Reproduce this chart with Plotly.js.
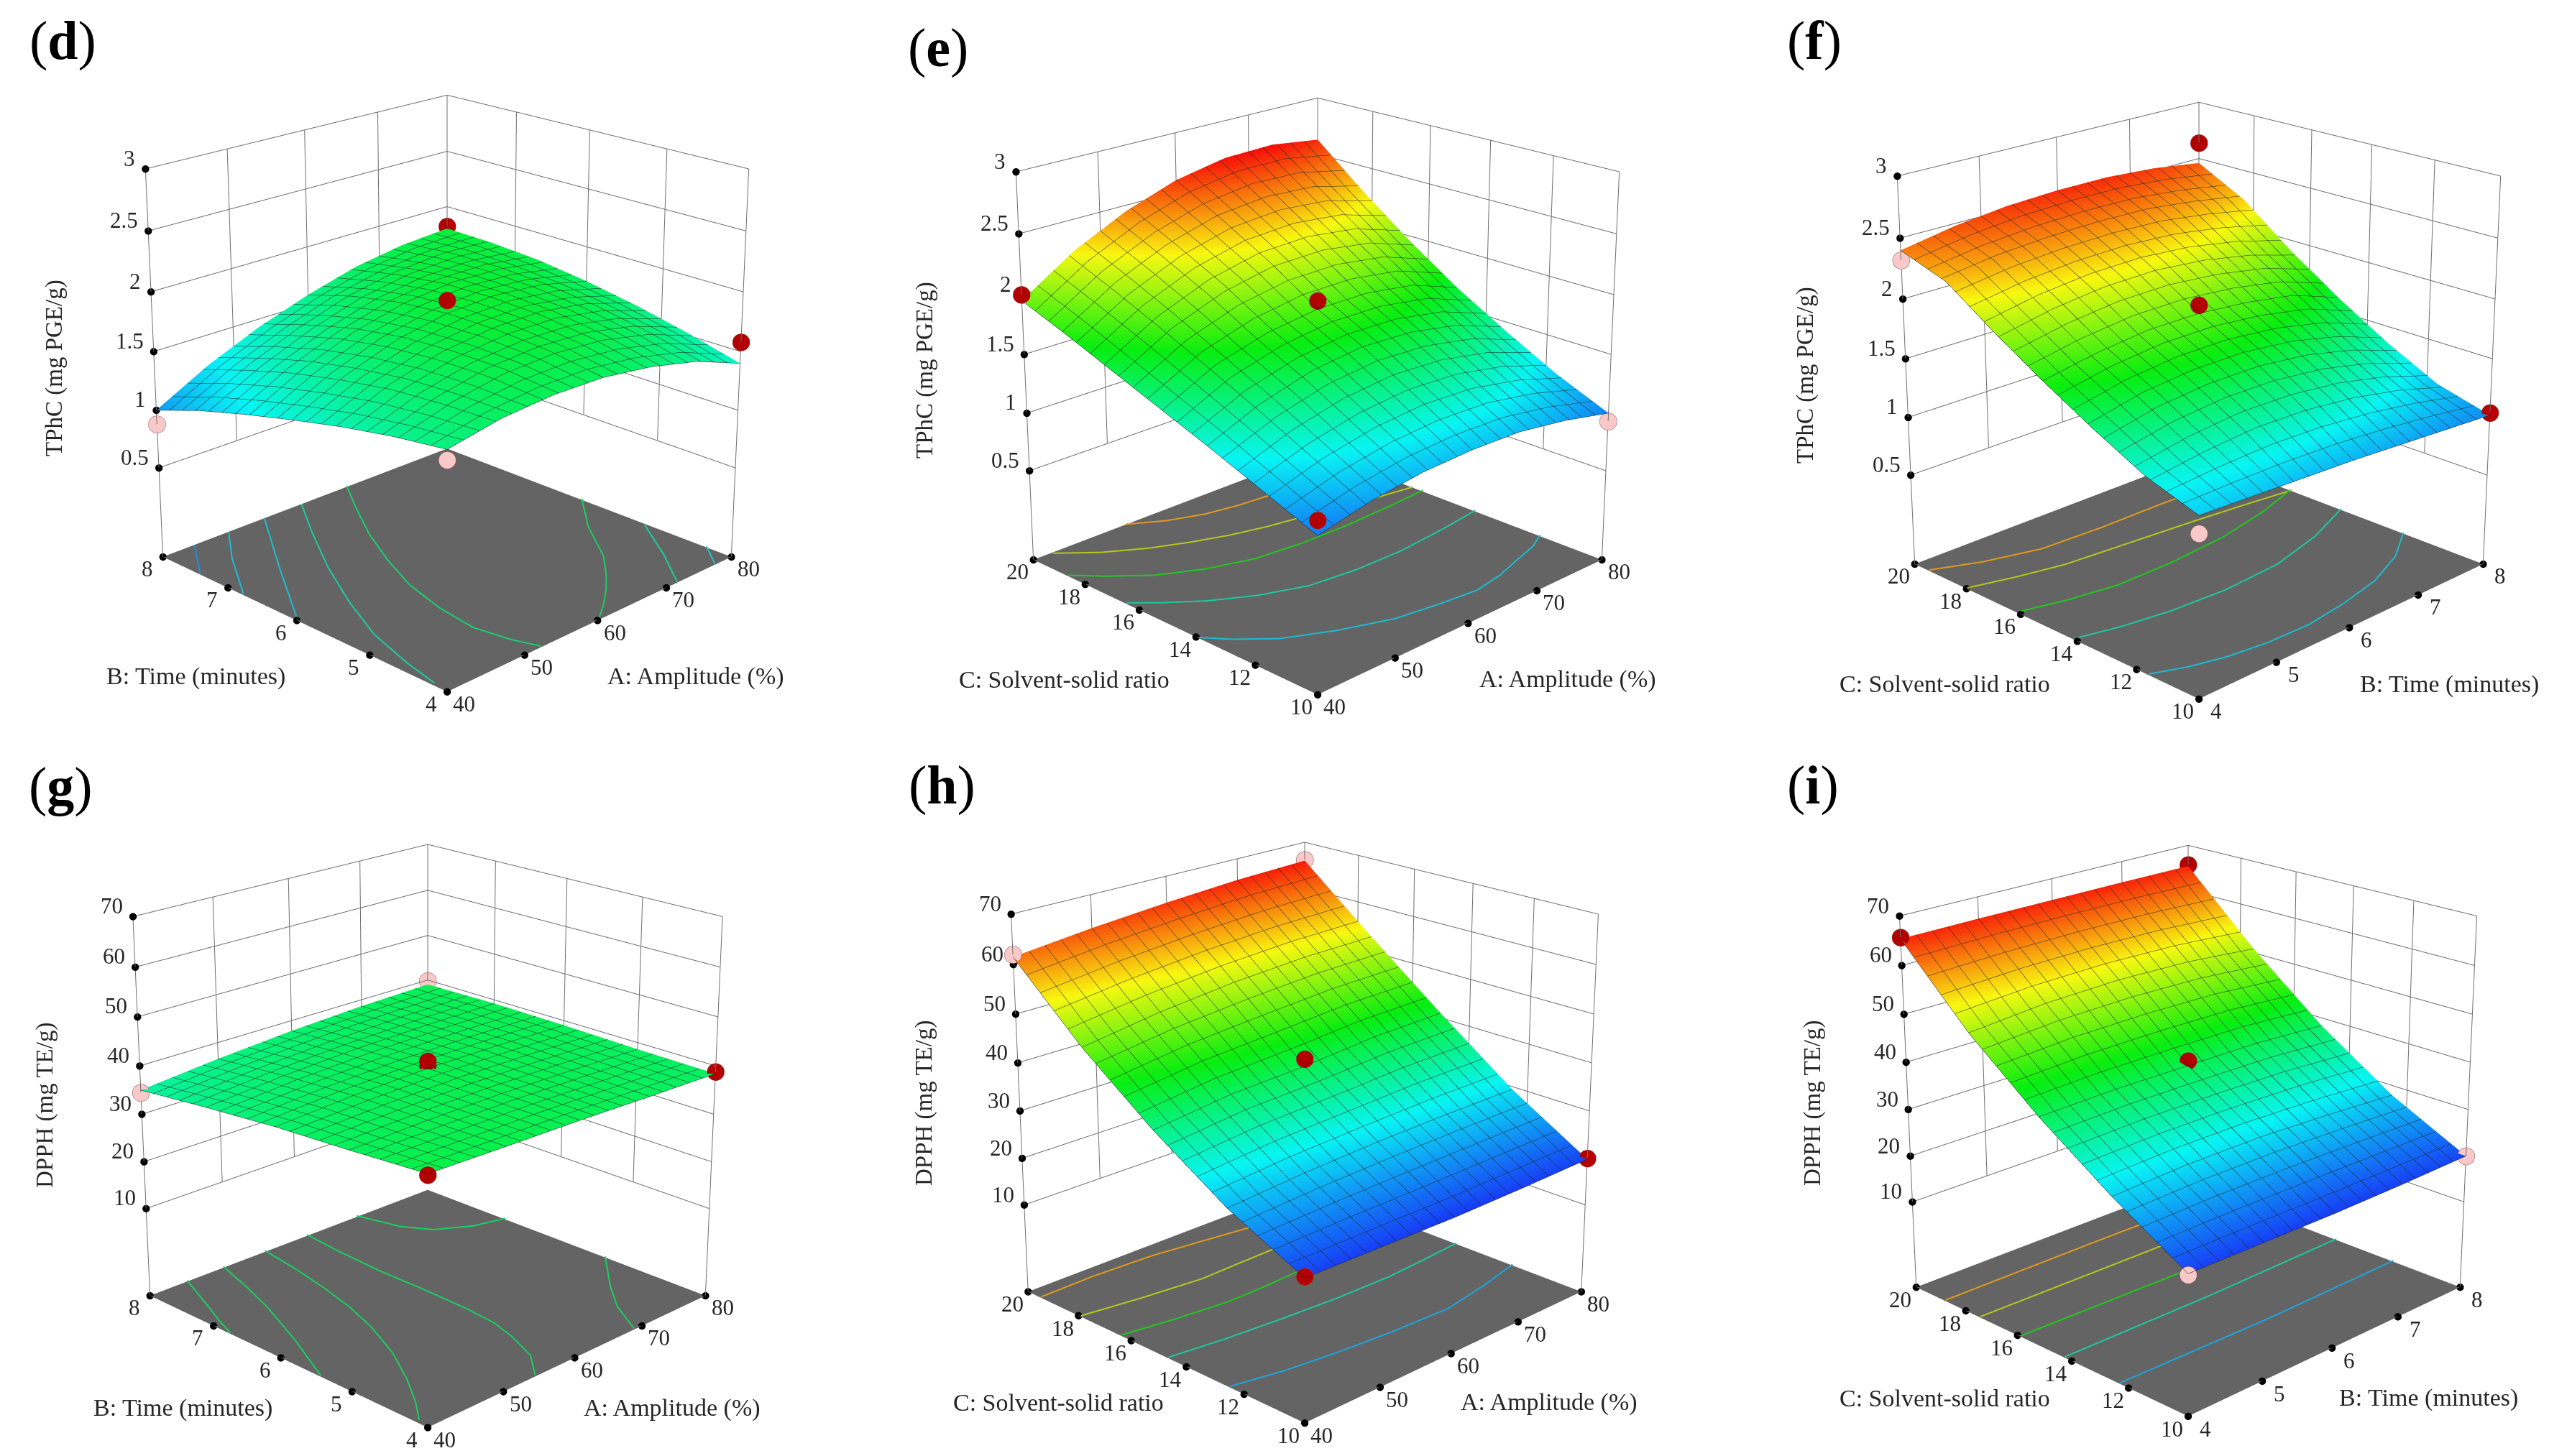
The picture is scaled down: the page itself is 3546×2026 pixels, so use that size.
<!DOCTYPE html>
<html>
<head>
<meta charset="utf-8">
<script src="https://cdn.plot.ly/plotly-3.0.1.min.js"></script>
<style>
html,body{margin:0;padding:0;background:#fff;width:3546px;height:2026px;overflow:hidden}
#stage{position:absolute;left:0;top:0;width:3546px;height:2026px;overflow:hidden}
#g{position:absolute;left:-1000px;top:-1200px;width:5546px;height:4400px}
</style>
</head>
<body>
<div id="stage"><div id="g"></div></div>
<script>
// ---------- tick values ----------
const ticksA = [40,50,60,70,80];
const ticksB = [4,5,6,7,8];
const ticksC = [10,12,14,16,18,20];
const ticksTPhC = [0.5,1,1.5,2,2.5,3];
const ticksDPPH = [10,20,30,40,50,60,70];

// ---------- surface grids (rows = second factor, columns = first factor) ----------
const gridA7 = [40,46.67,53.33,60,66.67,73.33,80];
const gridB7 = [4,4.67,5.33,6,6.67,7.33,8];
const gridC7 = [10,11.67,13.33,15,16.67,18.33,20];
const gridA5 = [40,50,60,70,80];
const gridB5 = [4,5,6,7,8];
const gridC5 = [10,12.5,15,17.5,20];

const zD = [
 [1.62,1.70,1.73,1.72,1.66,1.56,1.40],
 [1.56,1.69,1.77,1.79,1.76,1.67,1.52],
 [1.48,1.66,1.77,1.82,1.82,1.75,1.62],
 [1.38,1.59,1.74,1.82,1.84,1.80,1.70],
 [1.27,1.50,1.67,1.78,1.83,1.82,1.76],
 [1.15,1.38,1.56,1.70,1.78,1.81,1.79],
 [1.00,1.24,1.43,1.58,1.70,1.77,1.80]];
const zE = [
 [0.98,1.08,1.14,1.16,1.15,1.09,1.00],
 [1.15,1.29,1.38,1.42,1.40,1.32,1.19],
 [1.32,1.50,1.62,1.67,1.65,1.57,1.42],
 [1.48,1.70,1.82,1.88,1.88,1.82,1.67],
 [1.64,1.89,2.06,2.15,2.16,2.10,1.96],
 [1.80,2.07,2.26,2.38,2.42,2.39,2.28],
 [1.95,2.24,2.45,2.60,2.68,2.69,2.63]];
const zF = [
 [1.17,1.15,1.13,1.11,1.08,1.05,1.02],
 [1.31,1.38,1.42,1.41,1.36,1.27,1.14],
 [1.52,1.62,1.66,1.66,1.61,1.51,1.36],
 [1.75,1.83,1.88,1.88,1.84,1.77,1.62],
 [2.00,2.09,2.14,2.15,2.11,2.03,1.91],
 [2.27,2.33,2.36,2.37,2.36,2.31,2.24],
 [2.40,2.48,2.53,2.55,2.55,2.52,2.46]];
const zG = [
 [40.0,39.6,39.3,38.8,38.4],
 [38.9,39.3,39.4,39.1,38.6],
 [38.0,39.0,39.5,39.4,39.0],
 [36.6,38.0,38.8,39.1,39.2],
 [35.0,36.6,37.8,38.6,39.0]];
const zH = [
 [19.6,19.4,19.2,19.4,19.8],
 [27.0,28.2,28.95,29.3,29.4],
 [36.7,38.6,39.3,40.6,41.0],
 [48.0,50.4,52.05,53.0,53.25],
 [61.5,63.2,64.5,65.5,66.0]];
const zI = [
 [19.6,19.5,19.4,19.6,20.0],
 [28.7,29.45,29.5,28.85,27.9],
 [39.0,39.4,39.3,39.2,38.3],
 [50.85,52.25,52.7,52.25,50.9],
 [65.4,65.5,65.5,65.5,65.4]];

// ---------- design points ----------
const ptsDx=[80,40,60,40,80], ptsDy=[8,4,6,8,4], ptsDz=[1.82,1.54,1.93,0.88,1.58];
const ptsEx=[40,80,60,40,80], ptsEy=[20,10,15,10,20], ptsEz=[2.0,0.93,1.95,1.1,2.4];
const ptsFx=[8,4,6,8,4], ptsFy=[20,20,15,10,10], ptsFz=[2.64,2.32,1.95,1.04,1.03];
const ptsGx=[40,80,60,60,80,40], ptsGy=[8,4,6,6,8,4], ptsGz=[34.5,38.8,40.0,41.0,39.8,39.8];
const ptsHx=[40,80,60,80,40], ptsHy=[20,20,15,10,10], ptsHz=[62,66.2,40.8,20,19.9];
const ptsIx=[4,8,6,8,4], ptsIy=[20,20,15,10,10], ptsIz=[65.7,65.7,40.3,20,19.4];
const ptsDabove=[1,0,1,0,1], ptsEabove=[1,0,1,1,1], ptsFabove=[1,0,1,1,0];
const ptsGabove=[0,1,1,1,0,1], ptsHabove=[0,0,1,1,1], ptsIabove=[1,1,1,0,0];

// ---------- floor contour lines in factor units ----------
const ctrDx=[[43.8,40],[48.3,44.5,40],[53.1,46.3,40],[58.3,54.4,49.7,46,43,41.2,40.2],[64.9,61.8,58,55.1,52.7,51.2,50.5,51.2,52.2],[80,75.2,71,67.9,65.4,62.5,60.2],[79.6,75.5,71.6],[80,77.4]];
const ctrDy=[[7.97,7.42],[7.97,7.47,6.77],[7.97,6.96,5.99],[7.98,7.39,6.62,5.92,5.26,4.64,4.18],[8,7.53,6.91,6.34,5.78,5.22,4.71,4.29,4],[6,5.48,4.9,4.59,4.37,4.15,4],[5.1,4.5,4],[4.32,4]];
const ctrEx=[[52,55.5,59.5,63.5,67.5,73.5,80],[42.2,45.7,49.7,53.7,57.7,61.7,65.8,72.7,80],[40,42.4,46,50.4,55.6,61.6,67.9,74.7,80],[40,42.3,45.8,50,55,60.9,67.2,74.3,80],[40,41.9,45.1,50.1,55.7,61,65.8,69.9,73.6,77.3,80]];
const ctrEy=[[19.96,19.4,19,18.8,18.7,18.3,18],[19.9,19.1,18.45,17.97,17.58,17.3,17.1,16.7,16.4],[18.64,17.96,17.14,16.54,16.1,15.93,15.9,15.97,16.06],[16.47,15.89,15.17,14.54,14.05,13.87,13.85,14.01,14.2],[13.87,13.27,12.52,11.87,11.34,11.13,11,11.16,11.43,11.68,12]];
const ctrFx=[[4,4.5,5.12,5.9,6.7,7.4,8],[4,4.5,5.04,5.85,6.7,7.4,8],[4,4.5,5.08,5.8,6.62,7.35,8],[4,4.5,5.04,5.75,6.53,7.3,8],[4,4.35,4.74,5.22,5.76,6.33,6.93,7.5,8]];
const ctrFy=[[19.42,18.85,18.4,18.3,18.3,18.25,18.2],[17.97,17.6,17.29,17.1,16.9,16.7,16.5],[16.1,15.75,15.5,15.5,15.67,16.05,16.54],[14.1,13.78,13.56,13.45,13.57,14.05,14.74],[11.6,11.22,10.95,10.78,10.74,10.92,11.23,11.8,12.6]];
const ctrGx=[[69,70.3,72.2,76,80],[61.6,61,60.6,60.6,60.4,60,59,57.2,54.4],[55.6,54.7,53.6,52.3,50.7,48.2,45.3,42.6,40.3],[49.8,48.2,46.4,43.3,40],[44.9,43.5,42.2,41,40],[80,77,74.7,71.5,68.8]];
const ctrGy=[[8,7.45,7.14,6.9,6.8],[8,7.4,6.77,6.12,5.5,5.08,4.74,4.32,4],[8,7.4,6.85,6.33,5.86,5.3,4.81,4.42,4.14],[8,7.45,6.91,6.15,5.43],[8,7.65,7.32,7.03,6.74],[5.35,5.05,4.82,4.45,4]];
const ctrHx=[[40,47,54.7,61.5,68.1,74,80],[40,47,54.5,60,65.4,73,80],[40,46,52.5,57.5,63,71.5,80],[40,46.5,53.7,61,68.7,74.5,80],[40,46,52.4,59.5,67.2,73.5,80]];
const ctrHy=[[19.47,19.5,19.4,19.15,18.9,18.8,18.7],[17.9,17.62,17.39,17.42,17.44,17.2,17],[16.36,16.1,15.9,15.9,15.96,15.75,15.6],[14.63,14.4,14.23,14.1,14.06,14.15,14.26],[12.48,12.15,11.94,11.78,11.7,11.95,12.3]];
const ctrIx=[[4,6,8],[4,6,8],[4,6,8],[4,6,8],[4,6,8]];
const ctrIy=[[18.8,18.8,18.75],[17.42,17.35,17.3],[15.87,15.75,15.7],[14.24,14.2,14.3],[12.29,12.2,12.27]];

// ---------- titles ----------
const titleA='A: Amplitude (%)', titleB='B: Time (minutes)', titleC='C: Solvent-solid ratio';
const titleTPhC='TPhC (mg PGE/g)', titleDPPH='DPPH (mg TE/g)';

// ---------- styling ----------
const OX=1000,OY=1200,GW=5546,GH=4400;
const FONT='"Liberation Serif","Times New Roman",serif';
const TXT='#262626', GRID='#6e6e6e', FLOOR='#646464', MESH='#1c241c';
const RED='#b30000', PINK='#f9c9c9';
const SCALE=[[0,'#1830f6'],[0.25,'#08f4f4'],[0.5,'#08ee10'],[0.75,'#f8f810'],[1,'#f80808']];
const cOrange='#e09a1c',cYellow='#b4c81e',cGreen='#22c81e',cTeal='#1ec8a0',cBlue='#1ea4dc',cLeaf='#18d060',cCyan='#1cbcd0';
const panels=[
 {id:'',name:'(d)',cx:622,cy:513,w:788,xs:gridA7,ys:gridB7,z:zD,xt:ticksA,yt:ticksB,zt:ticksTPhC,zr:[-0.29,3],c:[0.65,3.2],dx:2,dy:0.2,
  p:[ptsDx,ptsDy,ptsDz,ptsDabove],ctr:[ctrDx,ctrDy],cc:['#1e90dc','#1cbcd8',cCyan,'#1ccca0','#18d070',cLeaf,'#18d0a0','#1cc8c0'],
  tz:[75,512],tl:[272,941],tr:[968,941],tn:[87,57],xT:titleA,yT:titleB,zT:titleTPhC},
 {id:'2',name:'(e)',cx:1833,cy:517,w:788,xs:gridA7,ys:gridC7,z:zE,xt:ticksA,yt:ticksC,zt:ticksTPhC,zr:[-0.29,3],c:[0.8,2.7],dx:2,dy:0.5,
  p:[ptsEx,ptsEy,ptsEz,ptsEabove],ctr:[ctrEx,ctrEy],cc:[cOrange,cYellow,cGreen,cTeal,cCyan],
  tz:[1286,515],tl:[1480,945],tr:[2181,945],tn:[1305,66],xT:titleA,yT:titleC,zT:titleTPhC},
 {id:'3',name:'(f)',cx:3059,cy:523,w:788,xs:gridB7,ys:gridC7,z:zF,xt:ticksB,yt:ticksC,zt:ticksTPhC,zr:[-0.29,3],c:[0.8,2.62],dx:0.2,dy:0.5,
  p:[ptsFx,ptsFy,ptsFz,ptsFabove],ctr:[ctrFx,ctrFy],cc:[cOrange,cYellow,cGreen,cTeal,cCyan],
  tz:[2511,522],tl:[2705,952],tr:[3407,952],tn:[2524,57],xT:titleB,yT:titleC,zT:titleTPhC},
 {id:'4',name:'(g)',cx:595,cy:1547,w:770,xs:gridA5,ys:gridB5,z:zG,xt:ticksA,yt:ticksB,zt:ticksDPPH,zr:[-9,70],c:[18.5,67],dx:2,dy:0.2,
  p:[ptsGx,ptsGy,ptsGz,ptsGabove],ctr:[ctrGx,ctrGy],cc:[cLeaf,cLeaf,cLeaf,cLeaf,cLeaf,cLeaf],
  tz:[62,1538],tl:[254,1959],tr:[935,1959],tn:[84,1094],xT:titleA,yT:titleB,zT:titleDPPH},
 {id:'5',name:'(h)',cx:1815,cy:1543,w:767,xs:gridA5,ys:gridC5,z:zH,xt:ticksA,yt:ticksC,zt:ticksDPPH,zr:[-9,70],c:[18.5,67],dx:2,dy:0.5,
  p:[ptsHx,ptsHy,ptsHz,ptsHabove],ctr:[ctrHx,ctrHy],cc:[cOrange,cYellow,cGreen,cTeal,cBlue],
  tz:[1285,1535],tl:[1472,1951],tr:[2155,1951],tn:[1310,1092],xT:titleA,yT:titleC,zT:titleDPPH},
 {id:'6',name:'(i)',cx:3044,cy:1541,w:754,xs:gridB5,ys:gridC5,z:zI,xt:ticksB,yt:ticksC,zt:ticksDPPH,zr:[-9,70],c:[18.5,67],dx:0.2,dy:0.5,
  p:[ptsIx,ptsIy,ptsIz,ptsIabove],ctr:[ctrIx,ctrIy],cc:[cOrange,cYellow,cGreen,cTeal,cBlue],
  tz:[2521,1535],tl:[2705,1945],tr:[3378,1945],tn:[2522,1092],xT:titleB,yT:titleC,zT:titleDPPH}
];
const ELEV=20.5*Math.PI/180, DIST=5.8, BASEH=2800, ZASP=1.0, VW=900, PAD=0.006;
const paperX=px=>(px+OX)/GW, paperY=py=>1-(py+OY)/GH;

const traces=[], layout={
 width:GW,height:GH,margin:{l:0,r:0,t:0,b:0,pad:0},paper_bgcolor:'#fff',plot_bgcolor:'#fff',
 showlegend:false,hovermode:false,annotations:[]
};
const noAxis=(lo,hi)=>({range:[lo-(hi-lo)*PAD,hi+(hi-lo)*PAD],title:{text:''},showgrid:false,showline:false,zeroline:false,showticklabels:false,ticks:'',
 showbackground:false,showspikes:false,showaxeslabels:false,autorange:false});

panels.forEach(p=>{
 const sc='scene'+p.id;
 const x0=p.xt[0],x1=p.xt[p.xt.length-1],y0=p.yt[0],y1=p.yt[p.yt.length-1];
 const zb=p.zr[0],zw=p.zt[0],zt=p.zt[p.zt.length-1];
 // surface
 traces.push({type:'surface',scene:sc,x:p.xs,y:p.ys,z:p.z,colorscale:SCALE,cmin:p.c[0],cmax:p.c[1],showscale:false,
  lighting:{ambient:1,diffuse:0,specular:0,roughness:1,fresnel:0},hoverinfo:'skip',
  contours:{x:{show:true,start:x0,end:x1,size:p.dx,color:MESH,width:3,highlight:false},
            y:{show:true,start:y0,end:y1,size:p.dy,color:MESH,width:3,highlight:false},
            z:{show:false,highlight:false}}});
 // floor
 traces.push({type:'surface',scene:sc,x:[x0,x1],y:[y0,y1],z:[[zb,zb],[zb,zb]],colorscale:[[0,FLOOR],[1,FLOOR]],cmin:0,cmax:1,surfacecolor:[[0,0],[0,0]],
  showscale:false,lighting:{ambient:1,diffuse:0,specular:0,roughness:1,fresnel:0},hoverinfo:'skip',
  contours:{x:{highlight:false},y:{highlight:false},z:{highlight:false}}});
 // walls
 const gx=[],gy=[],gz=[];
 const seg=(a,b)=>{gx.push(a[0],b[0],null);gy.push(a[1],b[1],null);gz.push(a[2],b[2],null);};
 p.zt.forEach(v=>{seg([x0,y1,v],[x1,y1,v]);seg([x1,y1,v],[x1,y0,v]);});
 p.xt.forEach(v=>{seg([v,y1,(v===x0)?zb:zw],[v,y1,zt]);});
 p.yt.forEach(v=>{seg([x1,v,(v===y0)?zb:zw],[x1,v,zt]);});
 traces.push({type:'scatter3d',scene:sc,mode:'lines',x:gx,y:gy,z:gz,connectgaps:false,line:{color:GRID,width:2},hoverinfo:'skip'});
 // floor contours
 p.ctr[0].forEach((cx,i)=>{
  traces.push({type:'scatter3d',scene:sc,mode:'lines',x:cx,y:p.ctr[1][i],z:cx.map(()=>zb+(p.zr[1]-p.zr[0])*0.003),
   line:{color:p.cc[i],width:4},hoverinfo:'skip'});
 });
 // tick dots
 const tx=[],ty=[],tz=[];
 p.xt.forEach(v=>{tx.push(v);ty.push(y0);tz.push(zb);});
 p.yt.forEach(v=>{tx.push(x0);ty.push(v);tz.push(zb);});
 p.zt.forEach(v=>{tx.push(x0);ty.push(y1);tz.push(v);});
 traces.push({type:'scatter3d',scene:sc,mode:'markers',x:tx,y:ty,z:tz,marker:{color:'#000',size:6,line:{width:0}},hoverinfo:'skip'});
 // design points
 traces.push({type:'scatter3d',scene:sc,mode:'markers',x:p.p[0],y:p.p[1],z:p.p[2],
  marker:{size:14,color:p.p[3].map(a=>a?RED:PINK),line:{color:'#8a4a4a',width:1}},hoverinfo:'skip'});
 // scene
 const H=BASEH*p.w/788, k=DIST;
 const ann=[];
 const lab=(x,y,z,t,xa,ya,xs,ys)=>ann.push({x:x,y:y,z:z,text:String(t),showarrow:false,xanchor:xa,yanchor:ya,xshift:xs,yshift:ys,
  font:{family:FONT,size:31,color:TXT},bgcolor:'rgba(0,0,0,0)'});
 p.xt.forEach(v=>lab(v,y0,zb,v,'center','middle',24,-17));
 p.yt.forEach(v=>lab(x0,v,zb,v,'center','middle',-22,-17));
 p.zt.forEach(v=>lab(x0,y1,v,v,'right','middle',-12,15));
 layout[sc]={
  domain:{x:[paperX(p.cx-VW/2),paperX(p.cx+VW/2)],y:[paperY(p.cy+H/2),paperY(p.cy-H/2)]},
  aspectmode:'manual',aspectratio:{x:1,y:1,z:ZASP},bgcolor:'rgba(0,0,0,0)',
  camera:{center:{x:0,y:0,z:0},up:{x:0,y:0,z:1},projection:{type:'perspective'},
   eye:{x:-k*Math.cos(ELEV)/Math.SQRT2,y:-k*Math.cos(ELEV)/Math.SQRT2,z:k*Math.sin(ELEV)}},
  xaxis:noAxis(x0,x1),yaxis:noAxis(y0,y1),zaxis:noAxis(zb,zt),annotations:ann
 };
 // page titles
 const note=(pos,t,size,angle)=>layout.annotations.push({xref:'paper',yref:'paper',x:paperX(pos[0]),y:paperY(pos[1]),xanchor:'center',yanchor:'middle',
  showarrow:false,text:t,textangle:angle,font:{family:FONT,size:size,color:TXT}});
 note(p.tz,p.zT,33,-90);
 note(p.tl,p.yT,34,0);
 note(p.tr,p.xT,34,0);
 layout.annotations.push({xref:'paper',yref:'paper',x:paperX(p.tn[0]),y:paperY(p.tn[1]),xanchor:'center',yanchor:'middle',showarrow:false,
  text:'('+'<b>'+p.name.slice(1,-1)+'</b>'+')',font:{family:FONT,size:76,color:'#000'}});
});

Plotly.newPlot('g',traces,layout,{displayModeBar:false,responsive:false});
</script>
</body>
</html>
